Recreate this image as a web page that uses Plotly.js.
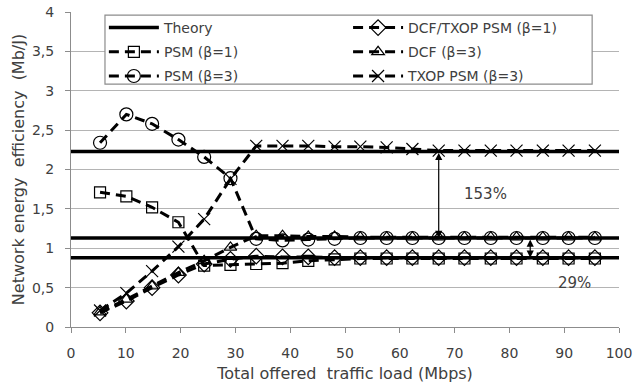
<!DOCTYPE html>
<html>
<head>
<meta charset="utf-8">
<script src="https://cdn.plot.ly/plotly-3.0.1.min.js"></script>
<style>html,body{margin:0;padding:0;background:#fff;}#chart{width:636px;height:390px;}</style>
</head>
<body>
<div id="chart"></div>
<script>
// Offered load (Mbps)
const load = [5.3, 10.1, 14.8, 19.6, 24.3, 29.1, 33.8, 38.6, 43.3, 48.1, 52.8, 57.6, 62.3, 67.1, 71.8, 76.6, 81.3, 86.1, 90.8, 95.6];
// Theory levels (Mb/J)
const theoryLevels = [2.23, 1.13, 0.88];
const theoryX = [0, 100];
// Series (Mb/J)
const dcfTxopB1 = [0.18, 0.33, 0.50, 0.66, 0.80, 0.86, 0.90, 0.89, 0.89, 0.88, 0.88, 0.88, 0.88, 0.88, 0.88, 0.88, 0.88, 0.88, 0.88, 0.88];
const psmB1     = [1.71, 1.66, 1.52, 1.33, 0.78, 0.79, 0.80, 0.81, 0.84, 0.86, 0.87, 0.87, 0.87, 0.87, 0.87, 0.87, 0.87, 0.87, 0.87, 0.87];
const dcfB3     = [0.19, 0.35, 0.52, 0.69, 0.84, 1.01, 1.16, 1.16, 1.15, 1.15, 1.14, 1.14, 1.14, 1.14, 1.14, 1.14, 1.14, 1.14, 1.14, 1.14];
const psmB3     = [2.34, 2.70, 2.58, 2.38, 2.16, 1.89, 1.12, 1.10, 1.11, 1.12, 1.13, 1.13, 1.13, 1.13, 1.13, 1.13, 1.13, 1.13, 1.13, 1.13];
const txopB3    = [0.21, 0.43, 0.71, 1.02, 1.37, 1.88, 2.30, 2.30, 2.30, 2.29, 2.29, 2.28, 2.26, 2.24, 2.24, 2.24, 2.24, 2.24, 2.24, 2.24];
const names = ['Theory', 'PSM (β=1)', 'PSM (β=3)', 'DCF/TXOP PSM (β=1)', 'DCF (β=3)', 'TXOP PSM (β=3)'];
// Annotations: gain arrows
const gainLabels = ['153%', '29%'];

const FONT = 'DejaVu Sans, sans-serif';
const TXT = '#404040';

const tx = [], ty = [];
theoryLevels.forEach((v, i) => {
  if (i > 0) { tx.push(null); ty.push(null); }
  tx.push(theoryX[0], theoryX[1]); ty.push(v, v);
});

const dashLine = {color: '#000', width: 3, dash: '10px,6px'};
function series(name, y, symbol, size, leg) {
  return {
    type: 'scatter', mode: 'lines+markers', name: name, x: load, y: y,
    legend: leg, legendgroup: name,
    line: dashLine,
    marker: {symbol: symbol, size: size, color: '#000', line: {color: '#000', width: 1.2}}
  };
}

const data = [
  {type: 'scatter', mode: 'lines', name: names[0], x: tx, y: ty, connectgaps: false,
   legend: 'legend', legendgroup: names[0], line: {color: '#000', width: 3.5}},
  series(names[3], dcfTxopB1, 'diamond-open', 12, 'legend2'),
  series(names[1], psmB1, 'square-open', 11, 'legend'),
  series(names[4], dcfB3, 'triangle-up-open', 11, 'legend2'),
  series(names[2], psmB3, 'circle-open', 13, 'legend'),
  series(names[5], txopB3, 'x-thin-open', 12, 'legend2')
];

const legFont = {family: FONT, size: 14, color: TXT};
const legCommon = {
  orientation: 'v', yanchor: 'top', xanchor: 'left', y: 1.0,
  bgcolor: 'rgba(0,0,0,0)', borderwidth: 0,
  font: legFont, itemwidth: 50, traceorder: 'grouped', tracegroupgap: 3
};

const layout = {
  width: 636, height: 390,
  margin: {l: 71, r: 17, t: 12, b: 63},
  paper_bgcolor: '#fff', plot_bgcolor: '#fff',
  separators: ', ',
  font: {family: FONT, size: 14, color: TXT},
  showlegend: true,
  legend: Object.assign({}, legCommon, {x: 0.060}),
  legend2: Object.assign({}, legCommon, {x: 0.5056}),
  shapes: [
    {type: 'rect', xref: 'paper', yref: 'paper', x0: 0.062, x1: 0.951, y0: 0.771, y1: 0.990,
     fillcolor: '#fff', line: {color: '#8c8c8c', width: 1.2}, layer: 'above'}
  ],
  xaxis: {
    range: [0, 100], dtick: 10, tick0: 0,
    showgrid: false, zeroline: false,
    showline: true, linecolor: '#8c8c8c', linewidth: 1,
    ticks: 'outside', ticklen: 5, tickcolor: '#8c8c8c',
    ticklabelstandoff: 8,
    tickfont: {family: FONT, size: 14, color: TXT},
    title: {text: 'Total offered\u00a0 traffic load (Mbps)', font: {family: FONT, size: 16, color: TXT}, standoff: 8}
  },
  yaxis: {
    range: [0, 4], dtick: 0.5, tick0: 0,
    showgrid: true, gridcolor: '#b4b4b4', gridwidth: 1, zeroline: false,
    showline: true, linecolor: '#8c8c8c', linewidth: 1,
    ticks: 'outside', ticklen: 5, tickcolor: '#8c8c8c',
    ticklabelstandoff: 8,
    tickfont: {family: FONT, size: 14, color: TXT},
    title: {text: 'Network energy\u00a0 efficiency\u00a0 (Mb/J)', font: {family: FONT, size: 16, color: TXT}, standoff: 3}
  },
  annotations: [
    {x: 67.1, y: theoryLevels[1], ax: 67.1, ay: theoryLevels[0], xref: 'x', yref: 'y', axref: 'x', ayref: 'y',
     text: '', showarrow: true, arrowhead: 2, startarrowhead: 2, arrowside: 'end+start', arrowsize: 1.2, arrowwidth: 1.2, arrowcolor: '#000', standoff: 0, startstandoff: 0},
    {x: 83.8, y: theoryLevels[2], ax: 83.8, ay: theoryLevels[1], xref: 'x', yref: 'y', axref: 'x', ayref: 'y',
     text: '', showarrow: true, arrowhead: 2, startarrowhead: 2, arrowside: 'end+start', arrowsize: 1.2, arrowwidth: 1.2, arrowcolor: '#000', standoff: 0, startstandoff: 0},
    {x: 75.6, y: 1.69, xref: 'x', yref: 'y', text: gainLabels[0], showarrow: false, font: {family: FONT, size: 15, color: TXT}},
    {x: 91.8, y: 0.56, xref: 'x', yref: 'y', text: gainLabels[1], showarrow: false, font: {family: FONT, size: 15, color: TXT}}
  ]
};

Plotly.newPlot('chart', data, layout, {displayModeBar: false, staticPlot: true});
</script>
</body>
</html>
